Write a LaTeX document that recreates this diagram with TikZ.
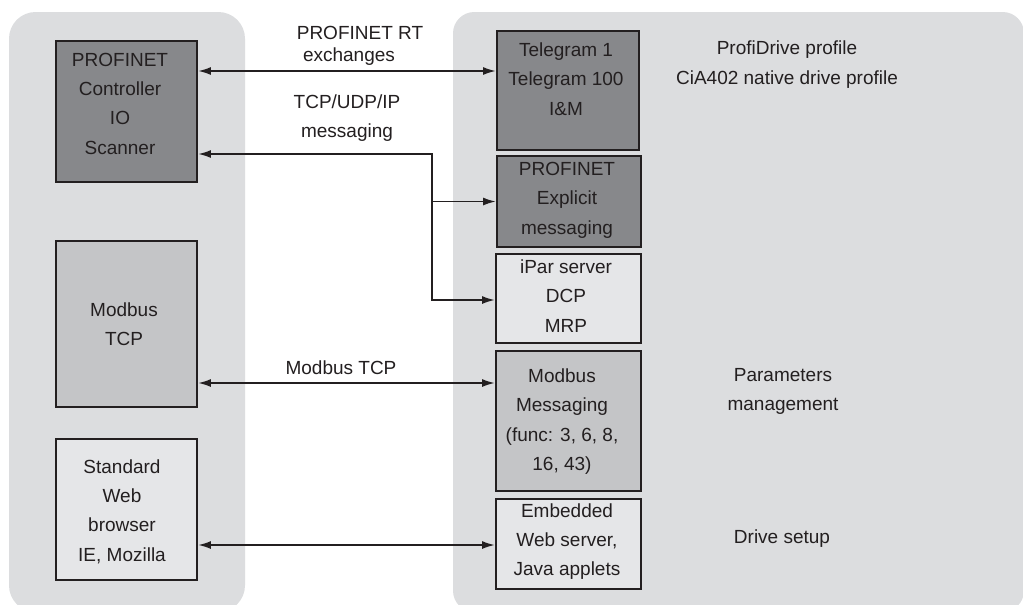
\documentclass[tikz,border=0pt]{standalone}
\usepackage{fontspec}
\setmainfont{Liberation Sans}
\usetikzlibrary{arrows.meta,calc}
\definecolor{panel}{HTML}{DCDDDF}
\definecolor{darkbox}{HTML}{87888B}
\definecolor{midbox}{HTML}{C4C5C7}
\definecolor{lightbox}{HTML}{E5E6E8}
\definecolor{ink}{HTML}{231F20}
\tikzset{
  panelbox/.style={fill=panel, draw=none, rounded corners=20pt},
  boxbase/.style={draw=ink, line width=1.9pt, inner sep=0pt},
  darkb/.style={boxbase, fill=darkbox},
  midb/.style={boxbase, fill=midbox},
  lightb/.style={boxbase, fill=lightbox},
  txt/.style={text=ink, align=center, inner sep=0pt, font=\fontsize{14.25}{22}\selectfont},
  conn/.style={draw=ink, line width=1.1pt, -{Latex[length=9.5pt,width=6pt]}},
  dconn/.style={draw=ink, line width=1.1pt, {Latex[length=9.5pt,width=6pt]}-{Latex[length=9.5pt,width=6pt]}}
}
\begin{document}
\begin{tikzpicture}[x=0.75pt,y=-0.75pt]
\useasboundingbox (0,0) rectangle (1023,604);
\clip (0,0) rectangle (1023,604);
\fill[white] (0,0) rectangle (1023,604);
% panels
\fill[panelbox] (9,12) rectangle (245,612);
\fill[panelbox, rounded corners=16pt] (453,12) rectangle (1024,612);
% left boxes
\node[darkb, minimum width=141pt*0.75, minimum height=141pt*0.75] (ctrl) at (126.5,111.5) {};
\node[midb, minimum width=141pt*0.75, minimum height=166pt*0.75] (mtcp) at (126.5,324) {};
\node[lightb, minimum width=141pt*0.75, minimum height=141pt*0.75] (web) at (126.5,509.5) {};
% right boxes
\node[darkb, minimum width=142pt*0.75, minimum height=119pt*0.75] (tel) at (568,90.5) {};
\node[darkb, minimum width=144pt*0.75, minimum height=91pt*0.75] (expl) at (569,201.5) {};
\node[lightb, minimum width=145pt*0.75, minimum height=89pt*0.75] (ipar) at (568.5,298.5) {};
\node[midb, minimum width=145pt*0.75, minimum height=140pt*0.75] (mmsg) at (568.5,421) {};
\node[lightb, minimum width=145pt*0.75, minimum height=90pt*0.75] (emb) at (568.5,544) {};
% box texts
\node[txt] (ctrlT) at (120,103.5) {PROFINET\\Controller\\IO\\Scanner};
\node[txt] (mtcpT) at (124,324) {Modbus\\TCP};
\node[txt] (webT) at (122,511.5) {Standard\\Web\\browser\\IE, Mozilla};
\node[txt] (telT) at (566,79) {Telegram 1\\Telegram 100\\I\&M};
\node[txt] (explT) at (567,200) {PROFINET\\Explicit\\messaging};
\node[txt] (iparT) at (566,296) {iPar server\\DCP\\MRP};
\node[txt] (mmsgT) at (562,421.5) {Modbus\\Messaging\\(func: 3, 6, 8,\\16, 43)};
\node[txt] (embT) at (567,541.5) {Embedded\\Web server,\\Java applets};
% side texts
\node[txt] (prof) at (787,64.5) {ProfiDrive profile\\CiA402 native drive profile};
\node[txt] (param) at (783,391.5) {Parameters\\management};
\node[txt] (setup) at (782,539) {Drive setup};
% connector labels
\node[txt] (rtA) at (360,33) {PROFINET RT};
\node[txt] (rtB) at (349,57) {exchanges};
\node[txt] (tcpL) at (347,118) {TCP/UDP/IP\\messaging};
\node[txt] (mbL) at (341,368) {Modbus TCP};
% connector levels
\coordinate (yrt) at (0,71);
\coordinate (jt) at (432,154);
\coordinate (jm) at (432,201.5);
\coordinate (jb) at (432,300);
\coordinate (ymb) at (0,383);
\coordinate (yweb) at (0,545);
% connectors
\draw[dconn] (ctrl.east |- yrt) -- (tel.west |- yrt);
\draw[dconn] (ctrl.east |- jt) -- (jt) -- (jb) -- (ipar.west |- jb);
\draw[conn] (jm) -- (expl.west |- jm);
\draw[dconn] (mtcp.east |- ymb) -- (mmsg.west |- ymb);
\draw[dconn] (web.east |- yweb) -- (emb.west |- yweb);
\end{tikzpicture}
\end{document}
